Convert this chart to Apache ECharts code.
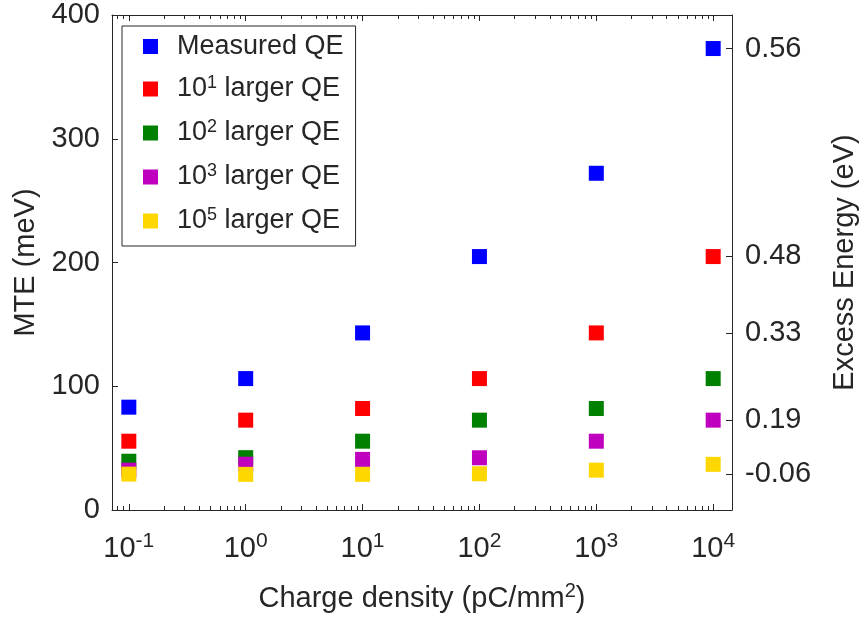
<!DOCTYPE html>
<html><head><meta charset="utf-8">
<script src="https://cdn.jsdelivr.net/npm/echarts@6/dist/echarts.min.js"></script>
<style>html,body{margin:0;padding:0;background:#fff}#c{width:867px;height:622px}</style>
</head><body><div id="c"></div>
<script>
// ---- data ----
const xExponents = [-1, 0, 1, 2, 3, 4]; // charge density = 10^x pC/mm^2
const seriesNames = ['Measured QE', '10^1 larger QE', '10^2 larger QE', '10^3 larger QE', '10^5 larger QE'];
const measuredQE = [83.1, 106.2, 143.1, 204.8, 272.1, 372.9];
const qe10x1 = [55.6, 72.6, 82.0, 106.2, 143.1, 204.8];
const qe10x2 = [39.4, 42.3, 55.6, 72.6, 82.0, 106.2];
const qe10x3 = [32.2, 37.0, 40.9, 42.2, 55.6, 72.6];
const qe10x5 = [29.0, 28.8, 28.8, 29.3, 32.2, 36.9];
const seriesValues = [measuredQE, qe10x1, qe10x2, qe10x3, qe10x5];
const seriesColors = ['#0000FF', '#FF0000', '#008000', '#BF00BF', '#FFD700'];
const xTickExponents = [-1, 0, 1, 2, 3, 4];
const leftTicks = [0, 100, 200, 300, 400];
const rightTickPositions = [28.8, 72.6, 143.1, 205.4, 372.9]; // in MTE units
const rightTickLabels = ['-0.06', '0.19', '0.33', '0.48', '0.56'];

// ---- styling / setup ----
const FONT = "'Liberation Sans', Arial, Helvetica, sans-serif";
const TXT = '#262626';
const XMIN = -1.144, XMAX = 4.161;
const minorTicks = [];
for (let n = -2; n <= 4; n++) {
  for (let k = 2; k <= 9; k++) {
    const v = n + Math.log10(k);
    if (v > XMIN && v < XMAX) minorTicks.push(v);
  }
}

const chart = echarts.init(document.getElementById('c'), null, {renderer: 'canvas'});

function supFmt(name) {
  const m = name.match(/^(\d+)\^(\d+)(.*)$/);
  if (!m) return '{sp|}{a|' + name + '}';
  return '{sp|}{a|' + m[1] + '}{s|' + m[2] + '}{a|' + m[3] + '}';
}

const axisLineStyle = {color: TXT, width: 1};

const xBase = {
  type: 'value', min: XMIN, max: XMAX, gridIndex: 0,
  splitLine: {show: false}
};

const option = {
  animation: false,
  backgroundColor: '#fff',
  grid: {left: 112, right: 128, top: 15, bottom: 112, containLabel: false},
  xAxis: [
    Object.assign({}, xBase, {
      position: 'bottom',
      axisLine: {show: true, onZero: false, lineStyle: axisLineStyle},
      axisTick: {show: true, inside: true, length: 6, lineStyle: axisLineStyle, customValues: xTickExponents},
      axisLabel: {
        show: true, margin: 22, customValues: xTickExponents,
        formatter: v => '{b|10}{s|' + Math.round(v) + '}',
        rich: {
          b: {fontFamily: FONT, fontSize: 29, color: TXT, lineHeight: 34},
          s: {fontFamily: FONT, fontSize: 21, color: TXT, lineHeight: 18, padding: [0, 0, 16, 0]}
        }
      },
      name: '{a|Charge density (pC/mm}{s|2}{a|)}',
      nameLocation: 'middle', nameGap: 72,
      nameTextStyle: {
        rich: {
          a: {fontFamily: FONT, fontSize: 29, color: TXT, lineHeight: 34},
          s: {fontFamily: FONT, fontSize: 20, color: TXT, lineHeight: 18, padding: [0, 0, 16, 0]}
        }
      }
    }),
    Object.assign({}, xBase, {
      position: 'bottom',
      axisLine: {show: false, onZero: false},
      axisTick: {show: true, inside: true, length: 4, lineStyle: axisLineStyle, customValues: minorTicks},
      axisLabel: {show: false}
    }),
    Object.assign({}, xBase, {
      position: 'top',
      axisLine: {show: true, onZero: false, lineStyle: axisLineStyle},
      axisTick: {show: true, inside: true, length: 6, lineStyle: axisLineStyle, customValues: xTickExponents},
      axisLabel: {show: false}
    }),
    Object.assign({}, xBase, {
      position: 'top',
      axisLine: {show: false, onZero: false},
      axisTick: {show: true, inside: true, length: 4, lineStyle: axisLineStyle, customValues: minorTicks},
      axisLabel: {show: false}
    })
  ],
  yAxis: [
    {
      type: 'value', min: 0, max: 400, interval: 100, position: 'left',
      splitLine: {show: false},
      axisLine: {show: true, onZero: false, lineStyle: axisLineStyle},
      axisTick: {show: true, inside: true, length: 6, lineStyle: axisLineStyle, customValues: leftTicks},
      axisLabel: {show: true, margin: 12, customValues: leftTicks, fontFamily: FONT, fontSize: 29, color: TXT},
      name: 'MTE (meV)', nameLocation: 'middle', nameGap: 72,
      nameTextStyle: {fontFamily: FONT, fontSize: 29, color: TXT}
    },
    {
      type: 'value', min: 0, max: 400, position: 'right',
      splitLine: {show: false},
      axisLine: {show: true, onZero: false, lineStyle: axisLineStyle},
      axisTick: {show: true, inside: true, length: 6, lineStyle: axisLineStyle, customValues: rightTickPositions},
      axisLabel: {
        show: true, margin: 13, customValues: rightTickPositions, fontFamily: FONT, fontSize: 29, color: TXT,
        formatter: v => {
          let best = 0;
          rightTickPositions.forEach((p, i) => { if (Math.abs(p - v) < Math.abs(rightTickPositions[best] - v)) best = i; });
          return rightTickLabels[best];
        }
      },
      name: 'Excess Energy (eV)', nameLocation: 'middle', nameGap: 98, nameRotate: 90,
      nameTextStyle: {fontFamily: FONT, fontSize: 29, color: TXT}
    }
  ],
  legend: {
    orient: 'vertical', left: 122, top: 26,
    padding: [7, 12, 10, 21],
    itemWidth: 15, itemHeight: 15, itemGap: 14,
    borderColor: TXT, borderWidth: 1, backgroundColor: '#fff',
    data: seriesNames.map(n => ({name: n, icon: 'rect'})),
    formatter: supFmt,
    textStyle: {
      color: TXT,
      rich: {
        sp: {width: 14, lineHeight: 30},
        a: {fontFamily: FONT, fontSize: 27, color: TXT, lineHeight: 30},
        s: {fontFamily: FONT, fontSize: 18, color: TXT, lineHeight: 14, padding: [0, 0, 12, 0]}
      }
    }
  },
  series: seriesNames.map((name, si) => ({
    name: name, type: 'scatter', xAxisIndex: 0, yAxisIndex: 0,
    symbol: 'rect', symbolSize: 15,
    itemStyle: {color: seriesColors[si], opacity: 1},
    emphasis: {disabled: true},
    z: 2 + si,
    data: xExponents.map((x, i) => [x, seriesValues[si][i]])
  }))
};
chart.setOption(option);
</script>
</body></html>
